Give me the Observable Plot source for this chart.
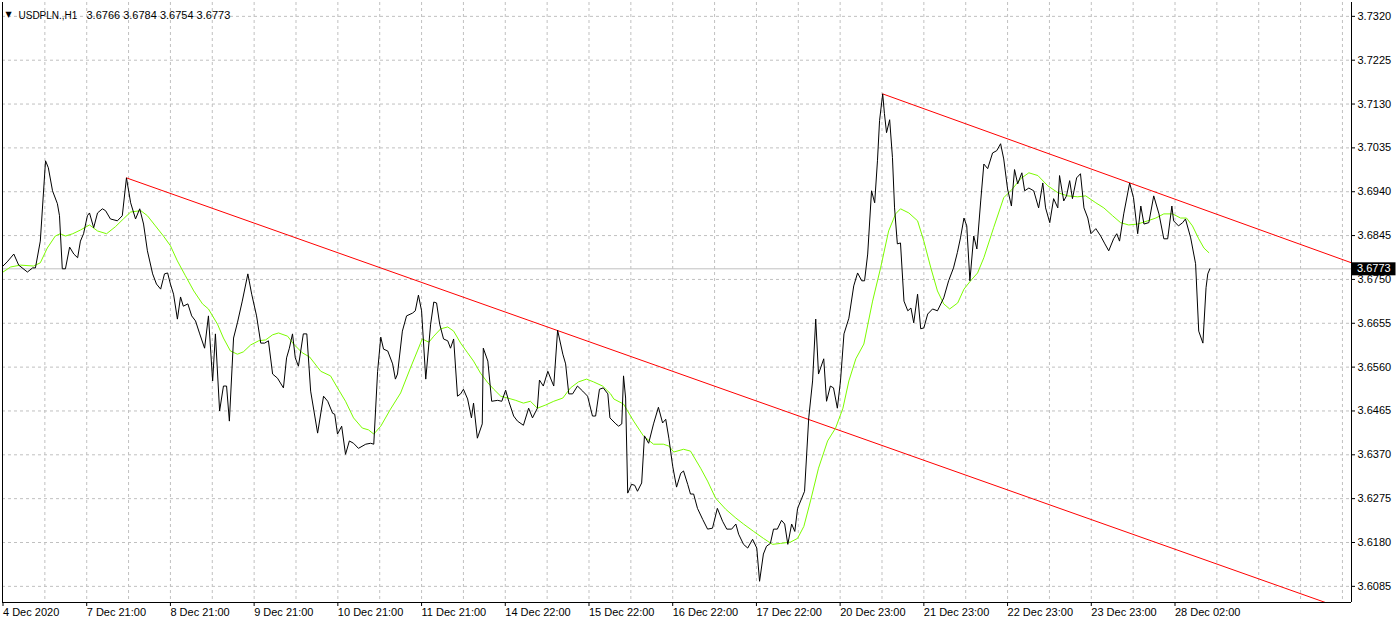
<!DOCTYPE html>
<html><head><meta charset="utf-8">
<script src="https://cdn.jsdelivr.net/npm/d3@7"></script>
<script src="https://cdn.jsdelivr.net/npm/@observablehq/plot@0.6"></script>
<style>
html,body{margin:0;padding:0;background:#fff;}
#chart svg{display:block;}
</style></head><body><div id="chart"></div>
<script>
// ---- data (x = hour/bar index from the first bar, y = price) ----
const symbolLabel = "USDPLN.,H1";
const ohlcLabel = "3.6766 3.6784 3.6754 3.6773";
const lastClose = 3.6773;

const xTickHours = [0,24,48,72,96,120,144,168,192,216,240,264,288,312,336];
const xTickLabels = ["4 Dec 2020","7 Dec 21:00","8 Dec 21:00","9 Dec 21:00","10 Dec 21:00","11 Dec 21:00","14 Dec 22:00","15 Dec 22:00","16 Dec 22:00","17 Dec 22:00","20 Dec 23:00","21 Dec 23:00","22 Dec 23:00","23 Dec 23:00","28 Dec 02:00"];
const gridHours = [12,24,36,48,60,72,84,96,108,120,132,144,156,168,180,192,204,216,228,240,252,264,276,288,300,312,324,336,348,360,372,384];
const yTickLabels = ["3.6085","3.6180","3.6275","3.6370","3.6465","3.6560","3.6655","3.6750","3.6845","3.6940","3.7035","3.7130","3.7225","3.7320"];
const xDomain = [-0.14, 386.6];
const yDomain = [3.6050, 3.7350];

const closeSeries = [
[0,3.6779],[1.2,3.6788],[3.1,3.6805],[4.5,3.6781],[7.0,3.6766],[8.5,3.6775],[9.3,3.6775],[10.7,3.6833],[12.2,3.7007],[13.0,3.6992],
[14.2,3.6942],[15.6,3.6914],[16.2,3.6888],[17.0,3.6773],[17.9,3.6773],[19.1,3.6820],[20.3,3.6805],[21.4,3.6797],[22.2,3.6833],[23.1,3.6849],
[24.2,3.6888],[24.8,3.6894],[26.0,3.6862],[27.1,3.6894],[28.5,3.6903],[29.4,3.6899],[30.8,3.6881],[32.8,3.6877],[34.2,3.6888],[35.4,3.6970],
[36.6,3.6916],[38.0,3.6881],[39.2,3.6903],[40.3,3.6870],[41.4,3.6812],[42.9,3.6762],[44.0,3.6740],[45.2,3.6729],[46.3,3.6762],[47.2,3.6764],
[48.0,3.6740],[48.9,3.6718],[50.0,3.6664],[50.9,3.6712],[51.7,3.6692],[53.0,3.6697],[54.1,3.6671],[55.2,3.6660],[56.4,3.6632],[57.8,3.6601],
[58.9,3.6671],[60.1,3.6530],[60.9,3.6632],[62.1,3.6465],[63.2,3.6519],[64.1,3.6519],[64.9,3.6443],[66.1,3.6623],[67.2,3.6656],[68.6,3.6703],
[70.2,3.6762],[71.3,3.6718],[72.7,3.6671],[73.9,3.6612],[75.0,3.6612],[76.1,3.6617],[77.3,3.6545],[78.7,3.6536],[80.4,3.6515],[81.3,3.6580],
[82.1,3.6601],[83.0,3.6632],[83.8,3.6580],[84.7,3.6562],[86.1,3.6632],[87.1,3.6632],[88.2,3.6508],[90.2,3.6417],[91.9,3.6497],[93.1,3.6486],
[94.5,3.6460],[95.1,3.6458],[95.9,3.6415],[97.1,3.6432],[98.2,3.6371],[99.3,3.6400],[100.5,3.6395],[101.9,3.6384],[104.0,3.6393],[105.4,3.6395],
[106.3,3.6393],[107.4,3.6551],[108.3,3.6625],[109.1,3.6599],[110.3,3.6595],[111.7,3.6567],[112.5,3.6534],[113.1,3.6545],[114.5,3.6638],[115.7,3.6671],
[117.4,3.6677],[118.2,3.6682],[119.1,3.6716],[120.0,3.6682],[121.2,3.6534],[122.6,3.6653],[123.5,3.6701],[124.3,3.6699],[125.2,3.6653],[126.3,3.6621],
[127.5,3.6617],[128.3,3.6601],[129.2,3.6621],[130.3,3.6497],[131.2,3.6502],[132.0,3.6512],[133.2,3.6491],[134.3,3.6450],[134.9,3.6482],[136.0,3.6406],
[137.4,3.6437],[137.7,3.6601],[139.0,3.6573],[140.1,3.6486],[141.8,3.6488],[143.0,3.6486],[144.1,3.6510],[145.0,3.6486],[146.4,3.6454],[147.5,3.6443],
[149.2,3.6434],[150.7,3.6471],[151.8,3.6450],[153.2,3.6471],[153.8,3.6532],[154.9,3.6519],[156.2,3.6551],[157.3,3.6530],[157.9,3.6519],[159.0,3.6640],
[160.5,3.6588],[161.3,3.6567],[162.2,3.6502],[163.3,3.6502],[164.7,3.6519],[166.2,3.6508],[167.6,3.6497],[169.0,3.6454],[169.9,3.6454],[171.0,3.6512],
[172.1,3.6515],[173.4,3.6502],[174.0,3.6450],[175.7,3.6437],[176.5,3.6432],[177.4,3.6437],[177.9,3.6541],[178.5,3.6493],[179.1,3.6287],[180.2,3.6306],
[181.1,3.6304],[181.9,3.6291],[183.1,3.6309],[183.9,3.6411],[185.1,3.6395],[186.5,3.6437],[187.9,3.6473],[189.1,3.6439],[190.0,3.6447],[190.9,3.6406],
[192.0,3.6345],[193.1,3.6300],[194.3,3.6330],[195.1,3.6335],[196.3,3.6306],[197.1,3.6285],[198.0,3.6285],[199.1,3.6254],[200.6,3.6230],[202.0,3.6209],
[203.4,3.6211],[204.8,3.6254],[206.3,3.6226],[207.5,3.6209],[208.9,3.6209],[210.1,3.6220],[210.9,3.6198],[212.3,3.6176],[213.5,3.6168],[214.9,3.6187],
[216.1,3.6168],[216.9,3.6096],[218.0,3.6155],[218.9,3.6172],[220.0,3.6178],[220.9,3.6209],[222.0,3.6209],[223.2,3.6228],[224.1,3.6220],[225.0,3.6176],
[226.1,3.6220],[227.0,3.6204],[227.8,3.6254],[229.0,3.6276],[229.8,3.6291],[231.0,3.6450],[232.1,3.6530],[233.0,3.6664],[233.8,3.6545],[235.3,3.6578],
[236.1,3.6486],[237.2,3.6519],[238.1,3.6515],[239.2,3.6471],[240.1,3.6530],[241.1,3.6632],[242.5,3.6666],[243.9,3.6736],[245.0,3.6764],[246.2,3.6747],
[247.0,3.6747],[247.9,3.6805],[249.0,3.6942],[249.9,3.6916],[250.7,3.7007],[251.3,3.7094],[252.2,3.7152],[252.7,3.7109],[253.3,3.7068],[254.2,3.7096],
[255.0,3.7014],[255.6,3.6905],[256.4,3.6827],[257.3,3.6829],[258.3,3.6703],[259.4,3.6682],[260.3,3.6688],[261.1,3.6656],[262.2,3.6718],[263.1,3.6643],
[264.0,3.6645],[265.1,3.6675],[266.5,3.6686],[267.9,3.6682],[269.7,3.6710],[271.1,3.6747],[272.5,3.6775],[273.6,3.6808],[274.5,3.6840],[275.5,3.6883],
[276.3,3.6866],[277.2,3.6747],[278.3,3.6844],[279.2,3.6816],[280.3,3.6920],[281.2,3.7000],[282.3,3.6990],[283.7,3.7024],[284.9,3.7029],[286.0,3.7044],
[286.9,3.7011],[288.0,3.6946],[289.1,3.6909],[290.0,3.6988],[290.9,3.6957],[292.1,3.6981],[292.9,3.6942],[294.1,3.6948],[295.5,3.6942],[296.9,3.6905],
[298.1,3.6959],[298.9,3.6905],[300.1,3.6873],[301.2,3.6925],[302.4,3.6905],[302.9,3.6975],[304.1,3.6920],[304.9,3.6931],[305.8,3.6964],[306.6,3.6925],
[307.8,3.6970],[308.9,3.6979],[309.9,3.6905],[311.0,3.6883],[311.9,3.6849],[313.3,3.6860],[314.7,3.6844],[315.9,3.6827],[317.0,3.6812],[318.4,3.6838],
[319.3,3.6849],[320.1,3.6833],[321.3,3.6892],[323.0,3.6959],[324.1,3.6927],[325.3,3.6849],[326.2,3.6909],[327.1,3.6870],[328.5,3.6873],[329.9,3.6931],
[331.4,3.6892],[332.8,3.6838],[333.9,3.6838],[335.1,3.6909],[335.6,3.6877],[337.0,3.6866],[338.2,3.6873],[339.0,3.6881],[340.5,3.6840],[341.9,3.6784],
[342.8,3.6638],[344.0,3.6612],[344.9,3.6732],[345.4,3.6762],[346.0,3.6773]
];

const maSeries = [
[0,3.6766],[2.2,3.6777],[5.0,3.6781],[8.8,3.6779],[10.7,3.6786],[12.7,3.6818],[15.0,3.6844],[16.4,3.6849],[17.9,3.6844],[20.0,3.6849],
[22.2,3.6857],[24.8,3.6868],[27.1,3.6855],[29.7,3.6849],[32.2,3.6864],[34.5,3.6881],[36.6,3.6896],[39.5,3.6899],[41.4,3.6888],[43.7,3.6866],
[46.0,3.6844],[48.0,3.6823],[50.0,3.6790],[52.3,3.6758],[54.7,3.6725],[57.2,3.6697],[58.9,3.6686],[61.5,3.6653],[63.2,3.6623],[65.2,3.6595],
[67.2,3.6588],[68.9,3.6593],[71.0,3.6608],[73.3,3.6617],[75.3,3.6619],[77.3,3.6630],[79.0,3.6634],[81.6,3.6627],[83.3,3.6610],[85.8,3.6591],
[87.9,3.6582],[91.1,3.6551],[93.9,3.6541],[95.9,3.6515],[98.2,3.6486],[100.5,3.6450],[103.0,3.6428],[104.8,3.6424],[106.3,3.6415],[108.3,3.6432],
[111.1,3.6469],[114.0,3.6504],[116.8,3.6558],[118.8,3.6595],[120.2,3.6621],[122.1,3.6614],[123.5,3.6627],[125.5,3.6643],[127.5,3.6647],[129.2,3.6638],
[131.2,3.6612],[133.2,3.6591],[134.9,3.6573],[136.9,3.6547],[139.0,3.6526],[140.7,3.6512],[142.7,3.6497],[144.7,3.6493],[147.0,3.6488],[149.2,3.6482],
[151.2,3.6486],[153.2,3.6471],[155.6,3.6478],[157.9,3.6486],[160.5,3.6493],[162.7,3.6515],[165.0,3.6528],[167.3,3.6534],[169.3,3.6528],[171.9,3.6519],
[174.2,3.6502],[175.1,3.6491],[177.9,3.6480],[180.8,3.6443],[183.6,3.6411],[186.5,3.6393],[189.3,3.6393],[190.9,3.6389],[192.3,3.6376],[195.1,3.6382],
[197.1,3.6378],[200.0,3.6341],[202.0,3.6313],[204.3,3.6276],[207.2,3.6252],[210.1,3.6233],[212.3,3.6220],[215.2,3.6204],[218.0,3.6189],[220.6,3.6176],
[222.9,3.6178],[225.8,3.6181],[227.8,3.6189],[229.6,3.6215],[231.5,3.6270],[233.8,3.6341],[236.4,3.6400],[238.7,3.6428],[240.8,3.6471],[242.5,3.6530],
[244.5,3.6578],[246.8,3.6610],[249.3,3.6703],[251.6,3.6775],[253.9,3.6855],[255.9,3.6892],[257.3,3.6903],[259.7,3.6894],[262.2,3.6877],[264.0,3.6833],
[266.0,3.6775],[267.9,3.6725],[269.7,3.6697],[271.4,3.6686],[273.7,3.6699],[275.5,3.6729],[277.4,3.6747],[279.4,3.6764],[281.2,3.6797],[284.0,3.6862],
[286.9,3.6927],[289.4,3.6946],[291.7,3.6968],[294.1,3.6981],[296.7,3.6975],[299.5,3.6953],[302.4,3.6938],[305.2,3.6931],[308.1,3.6929],[310.4,3.6931],
[313.3,3.6916],[315.6,3.6905],[318.1,3.6888],[320.4,3.6873],[322.7,3.6868],[325.3,3.6870],[328.2,3.6877],[330.5,3.6883],[332.8,3.6892],[335.3,3.6892],
[337.6,3.6883],[339.3,3.6883],[341.0,3.6866],[342.8,3.6838],[344.3,3.6818],[345.7,3.6808]
];

const trendLow = [[35.4,3.6970],[386.6,3.6030]];
const trendHigh = [[252.2,3.7152],[386.6,3.6786]];

// ---- chart ----
const yTicks = yTickLabels.map(Number);
const font = "'Liberation Sans', Arial, sans-serif";
const grid = {stroke: "#c0c0c0", strokeOpacity: 1, strokeDasharray: "3,3"};

const chart = Plot.plot({
  width: 1400, height: 623,
  marginLeft: 2, marginRight: 49, marginTop: 2, marginBottom: 21,
  style: {fontFamily: font, fontSize: "11px", color: "#000", background: "#fff", overflow: "visible"},
  x: {domain: xDomain},
  y: {domain: yDomain},
  marks: [
    Plot.gridX(gridHours, grid),
    Plot.gridY(yTicks, grid),
    Plot.ruleY([lastClose], {stroke: "#c0c0c0", strokeWidth: 1}),
    Plot.line(trendLow, {x: d => d[0], y: d => d[1], stroke: "#ff0000", strokeWidth: 1, clip: true}),
    Plot.line(trendHigh, {x: d => d[0], y: d => d[1], stroke: "#ff0000", strokeWidth: 1, clip: true}),
    Plot.line(maSeries, {x: d => d[0], y: d => d[1], stroke: "#7cfc00", strokeWidth: 1}),
    Plot.line(closeSeries, {x: d => d[0], y: d => d[1], stroke: "#000", strokeWidth: 1}),
    Plot.ruleX(xDomain, {stroke: "#000"}),
    Plot.ruleY([yDomain[0]], {stroke: "#000"}),
    Plot.axisX(xTickHours, {
      tickFormat: d => xTickLabels[xTickHours.indexOf(d)],
      tickSize: 4, tickPadding: 2, textAnchor: "start", dx: 0, label: null, fill: "#000"
    }),
    Plot.axisY(yTicks, {
      anchor: "right",
      tickFormat: d => yTickLabels[yTicks.indexOf(d)],
      tickSize: 3, tickPadding: 3, label: null, fill: "#000"
    }),
    Plot.text(["\u25BC"], {frameAnchor: "top-left", dx: 3, dy: 9, fontSize: 8, textAnchor: "start", fill: "#000", fontFamily: "'DejaVu Sans', sans-serif"}),
    Plot.text([symbolLabel], {frameAnchor: "top-left", dx: 16, dy: 9, fontSize: 10, textAnchor: "start", fill: "#000"}),
    Plot.text([ohlcLabel], {frameAnchor: "top-left", dx: 84, dy: 9, textAnchor: "start", fill: "#000"})
  ]
});

document.getElementById("chart").appendChild(chart);

// current price marker on the right axis
const yPos = chart.scale("y").apply(lastClose);
const xRight = chart.scale("x").apply(xDomain[1]);
const svg = d3.select(chart);
svg.append("rect")
  .attr("x", xRight + 0.5).attr("y", yPos - 6).attr("width", 44).attr("height", 13)
  .attr("fill", "#000");
svg.append("text")
  .attr("x", xRight + 6).attr("y", yPos + 0.5).attr("dy", "0.32em")
  .attr("text-anchor", "start")
  .attr("fill", "#fff").attr("font-family", font).attr("font-size", 11)
  .text(lastClose.toFixed(4));
</script>
</body></html>
